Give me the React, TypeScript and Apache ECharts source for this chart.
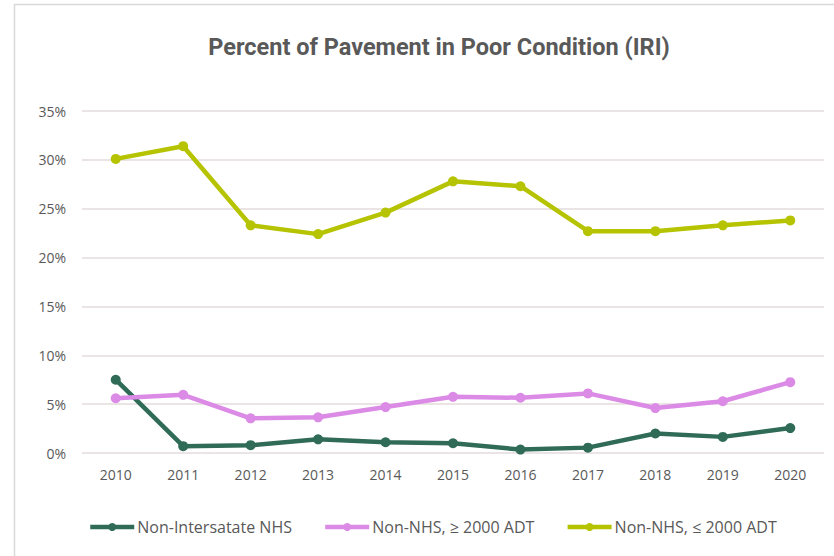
import React, { useEffect, useRef } from "react";
import * as echarts from "echarts";

const years = ["2010", "2011", "2012", "2013", "2014", "2015", "2016", "2017", "2018", "2019", "2020"];
const nonInterstateNHS = [7.5, 0.7, 0.8, 1.4, 1.1, 1.0, 0.35, 0.55, 2.0, 1.65, 2.55];
const nonNHSAbove2000 = [5.6, 5.95, 3.55, 3.65, 4.7, 5.75, 5.65, 6.1, 4.6, 5.3, 7.25];
const nonNHSBelow2000 = [30.1, 31.4, 23.3, 22.4, 24.6, 27.8, 27.3, 22.7, 22.7, 23.3, 23.8];

const seriesNames = ["Non-Intersatate NHS", "Non-NHS, ≥ 2000 ADT", "Non-NHS, ≤ 2000 ADT"];
const seriesColors = ["#2F6B57", "#DB8AE6", "#B5C300"];
const seriesData = [nonInterstateNHS, nonNHSAbove2000, nonNHSBelow2000];

export default function App() {
  const ref = useRef<HTMLDivElement>(null);
  useEffect(() => {
    if (!ref.current) return;
    const chart = echarts.init(ref.current, undefined, { renderer: "svg" });
    const font = "'Open Sans', 'Noto Sans', sans-serif";
    chart.setOption({
      animation: false,
      backgroundColor: "#ffffff",
      graphic: [
        {
          type: "rect",
          shape: { x: 14.5, y: 4.5, width: 840, height: 600 },
          style: { fill: "none", stroke: "#D9D9D9", lineWidth: 1.5 },
          silent: true,
          z: -1,
        },
      ],
      title: {
        text: "Percent of Pavement in Poor Condition (IRI)",
        left: 434,
        textAlign: "center",
        top: 30,
        textStyle: { fontFamily: "Roboto, sans-serif", fontWeight: "bold", fontSize: 23.5, color: "#595959" },
      },
      legend: {
        left: 88,
        top: 519,
        padding: 0,
        itemWidth: 44,
        itemHeight: 10,
        itemGap: 31,
        lineStyle: { width: 4.5 },
        textStyle: { fontFamily: font, fontSize: 16, color: "#595959", padding: [0, 0, 0, -2] },
        data: seriesNames,
      },
      grid: { left: 82, right: 10, top: 111, bottom: 103, containLabel: false },
      xAxis: {
        type: "category",
        data: years,
        boundaryGap: true,
        axisLine: { show: false },
        axisTick: { show: false },
        axisLabel: { color: "#595959", fontFamily: font, fontSize: 14, margin: 14 },
      },
      yAxis: {
        type: "value",
        min: 0,
        max: 35,
        interval: 5,
        axisLine: { show: false },
        axisTick: { show: false },
        axisLabel: { formatter: "{value}%", color: "#595959", fontFamily: font, fontSize: 14, margin: 16 },
        splitLine: { lineStyle: { color: "#E3DBDD", width: 1.5 } },
      },
      series: seriesNames.map((name, i) => ({
        name,
        type: "line",
        data: seriesData[i],
        symbol: "circle",
        symbolSize: 10,
        color: seriesColors[i],
        lineStyle: { width: 4.5, color: seriesColors[i] },
        itemStyle: { color: seriesColors[i] },
      })),
    });
    return () => chart.dispose();
  }, []);
  return <div ref={ref} style={{ width: 834, height: 556, position: "absolute", left: 0, top: 0 }} />;
}
